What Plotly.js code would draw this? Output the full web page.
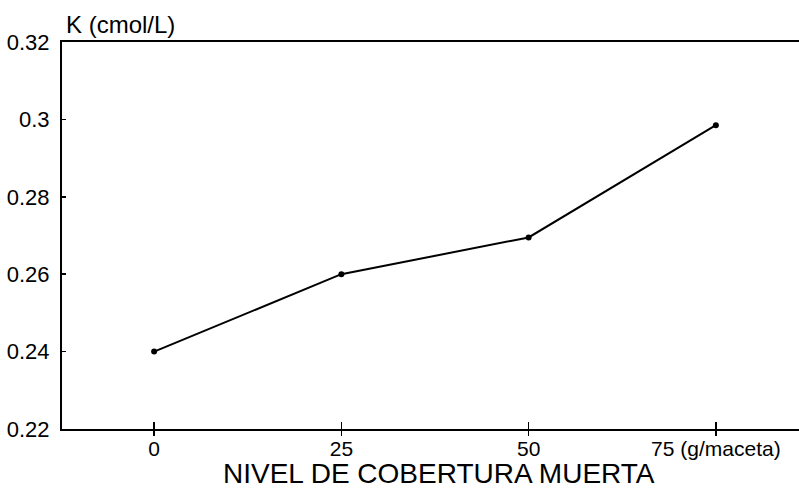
<!DOCTYPE html>
<html>
<head>
<meta charset="utf-8">
<script src="https://cdn.plot.ly/plotly-3.0.1.min.js"></script>
<style>html,body{margin:0;padding:0;background:#fff;}#chart{width:799px;height:490px;}</style>
</head>
<body>
<div id="chart"></div>
<script>
// Data
var levels = [0, 25, 50, 75];
var kValues = [0.240, 0.260, 0.2695, 0.2985];
var xTickVals = [0, 25, 50, 75];
var xTickText = ["0", "25", "50", "75 (g/maceta)"];
var yTickVals = [0.22, 0.24, 0.26, 0.28, 0.30, 0.32];
var yTickText = ["0.22", "0.24", "0.26", "0.28", "0.3", "0.32"];
var yTitle = "K (cmol/L)";
var xTitle = "NIVEL DE COBERTURA MUERTA";

var FONT = "Liberation Sans, Arial, sans-serif";

var trace = {
  x: levels, y: kValues, type: "scatter", mode: "lines+markers",
  line: {color: "#000", width: 2},
  marker: {color: "#000", size: 6},
  hoverinfo: "none", showlegend: false
};

var layout = {
  width: 799, height: 490,
  margin: {l: 62, r: 0, t: 42, b: 61, pad: 0},
  paper_bgcolor: "#fff", plot_bgcolor: "#fff",
  font: {family: FONT, color: "#000", size: 22},
  showlegend: false,
  xaxis: {
    range: [-12.3, 86.1], showgrid: false, zeroline: false,
    showline: true, linecolor: "#000", linewidth: 2, mirror: true,
    tickmode: "array", tickvals: xTickVals, ticktext: xTickText,
    ticks: "inside", ticklen: 7, tickwidth: 1.5, tickcolor: "#000",
    tickfont: {family: FONT, size: 21, color: "#000"},
    ticklabelstandoff: 0, fixedrange: true
  },
  xaxis2: {
    overlaying: "x", side: "bottom", range: [-12.3, 86.1],
    showgrid: false, zeroline: false, showline: false,
    tickmode: "array", tickvals: xTickVals, showticklabels: false,
    ticks: "outside", ticklen: 6, tickwidth: 1.5, tickcolor: "#000"
  },
  yaxis: {
    range: [0.22, 0.32], showgrid: false, zeroline: false,
    showline: true, linecolor: "#000", linewidth: 2, mirror: false,
    tickmode: "array", tickvals: yTickVals, ticktext: yTickText,
    ticks: "inside", ticklen: 4, tickwidth: 1.5, tickcolor: "#000",
    tickfont: {family: FONT, size: 22, color: "#000"},
    ticklabelstandoff: 6, fixedrange: true
  },
  annotations: [
    {text: yTitle, xref: "paper", yref: "paper", x: 0, y: 1,
     xanchor: "left", yanchor: "bottom", xshift: 2, yshift: 2, showarrow: false,
     font: {family: FONT, size: 24, color: "#000"}},
    {text: xTitle, xref: "paper", yref: "paper", x: 0.5115, y: 0,
     xanchor: "center", yanchor: "top", yshift: -27, showarrow: false,
     font: {family: FONT, size: 28, color: "#000"}}
  ]
};

Plotly.newPlot("chart", [trace, {x: [], y: [], xaxis: "x2", showlegend: false, hoverinfo: "none"}], layout, {staticPlot: true, displayModeBar: false});
</script>
</body>
</html>
